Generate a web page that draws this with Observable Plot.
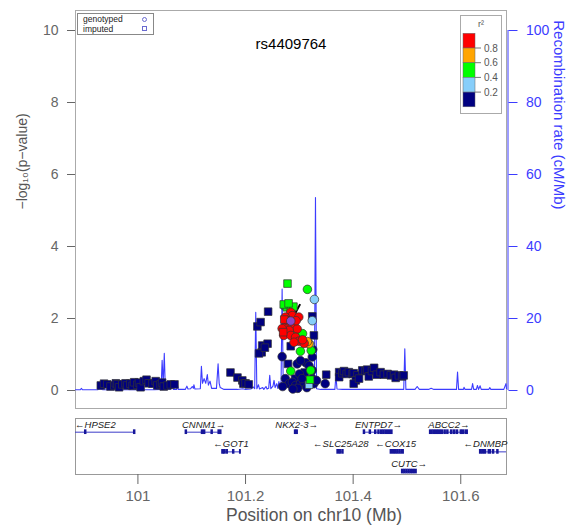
<!DOCTYPE html>
<html><head><meta charset="utf-8">
<script src="https://cdn.jsdelivr.net/npm/d3@7"></script>
<script src="https://cdn.jsdelivr.net/npm/@observablehq/plot@0.6"></script>
<style>
body{margin:0;background:#fff;font-family:"Liberation Sans",Arial,sans-serif}
#wrap{position:relative;width:574px;height:531px;overflow:hidden}
#wrap svg{display:block;max-width:none!important}
</style></head><body><div id="wrap"></div>
<script>
// ---------- data ----------
const title = "rs4409764";
const xDomain = [100.884, 101.685];
const xTicks = [101, 101.2, 101.4, 101.6];
const leftTicks = [0, 2, 4, 6, 8, 10];
const rightTicks = [0, 20, 40, 60, 80, 100];
const recScale = 10; // 100 cM/Mb on right axis == 10 on left axis
const r2Breaks = [0.2, 0.4, 0.6, 0.8];
const r2Colors = ["#000080", "#87cefa", "#00ff00", "#ffa500", "#ff0000"];
const r2Labels = ["0.8", "0.6", "0.4", "0.2"];

// [position (Mb), -log10 p, r², "g" genotyped / "i" imputed]
const leftSnps = [
  [100.931,0.14,0.1,"i"],[100.937,0.19,0.1,"i"],[100.943,0.17,0.1,"i"],[100.949,0.11,0.1,"i"],
  [100.956,0.14,0.1,"i"],[100.959,0.20,0.1,"i"],[100.962,0.17,0.1,"i"],[100.965,0.09,0.1,"i"],
  [100.971,0.17,0.1,"i"],[100.977,0.20,0.1,"i"],[100.980,0.14,0.1,"i"],[100.986,0.19,0.1,"i"],
  [100.990,0.13,0.1,"i"],[100.993,0.23,0.1,"i"],[100.999,0.16,0.1,"i"],[101.002,0.22,0.1,"i"],
  [101.005,0.09,0.1,"i"],[101.011,0.26,0.1,"i"],[101.016,0.30,0.1,"i"],[101.020,0.20,0.1,"i"],
  [101.027,0.19,0.1,"i"],[101.033,0.26,0.1,"i"],[101.036,0.14,0.1,"i"],[101.042,0.17,0.1,"i"],
  [101.045,0.22,0.1,"i"],[101.048,0.11,0.1,"i"],[101.055,0.14,0.1,"i"],[101.061,0.17,0.1,"i"],
  [101.068,0.17,0.1,"i"]
];
const midSnps = [
  [101.172,0.50,0.1,"i"],[101.185,0.36,0.1,"i"],[101.194,0.28,0.1,"i"],[101.196,0.19,0.1,"i"],
  [101.200,0.20,0.1,"i"],[101.206,0.17,0.1,"i"],
  [101.222,1.78,0.1,"i"],[101.228,1.90,0.1,"i"],[101.242,2.19,0.1,"i"],[101.231,1.25,0.1,"i"],
  [101.241,1.30,0.1,"i"],[101.230,1.06,0.1,"i"],[101.225,1.03,0.1,"i"],[101.236,1.19,0.1,"i"]
];
const coreSnps = [
  // low r²
  [101.279,0.74,0.1,"i"],[101.284,1.23,0.1,"i"],[101.292,0.33,0.1,"i"],[101.310,0.50,0.1,"i"],
  [101.327,1.53,0.1,"i"],[101.324,2.06,0.1,"i"],[101.350,0.44,0.1,"i"],
  [101.268,0.94,0.1,"g"],[101.296,0.74,0.1,"g"],[101.312,0.77,0.1,"g"],[101.318,0.69,0.1,"g"],
  [101.300,0.46,0.1,"g"],[101.302,0.83,0.1,"g"],[101.324,0.56,0.1,"g"],[101.324,0.93,0.1,"g"],
  [101.325,1.14,0.1,"g"],[101.274,0.33,0.1,"g"],[101.281,0.19,0.1,"g"],[101.287,0.23,0.1,"g"],
  [101.293,0.14,0.1,"g"],[101.302,0.19,0.1,"g"],[101.309,0.23,0.1,"g"],[101.327,0.19,0.1,"g"],
  [101.324,0.33,0.1,"g"],[101.297,0.06,0.1,"g"],[101.314,0.08,0.1,"g"],[101.288,0.04,0.1,"g"],
  [101.269,0.11,0.1,"g"],[101.305,0.33,0.1,"g"],[101.332,0.28,0.1,"g"],[101.348,0.19,0.1,"g"],
  // 0.2–0.4
  [101.328,2.53,0.3,"g"],[101.324,1.94,0.3,"g"],[101.320,1.28,0.3,"g"],[101.318,0.16,0.3,"i"],
  // 0.4–0.6
  [101.278,2.97,0.5,"i"],[101.274,2.36,0.5,"i"],[101.277,2.31,0.5,"i"],[101.284,2.28,0.5,"i"],
  [101.289,2.33,0.5,"i"],[101.271,2.39,0.5,"i"],[101.280,2.42,0.5,"i"],[101.296,1.58,0.5,"i"],
  [101.320,0.30,0.5,"i"],[101.315,2.81,0.5,"g"],[101.306,1.58,0.5,"g"],[101.302,1.09,0.5,"g"],
  [101.322,1.11,0.5,"g"],[101.284,0.54,0.5,"g"],[101.321,0.56,0.5,"g"],
  // 0.6–0.8
  [101.318,1.30,0.7,"g"],[101.315,1.36,0.7,"g"],
  // 0.8–1
  [101.284,2.17,0.9,"g"],[101.287,2.08,0.9,"g"],[101.274,2.04,0.9,"g"],[101.299,2.04,0.9,"g"],
  [101.290,1.85,0.9,"g"],[101.274,1.76,0.9,"g"],[101.296,1.71,0.9,"g"],[101.281,1.67,0.9,"g"],
  [101.271,1.53,0.9,"g"],[101.284,1.53,0.9,"g"],[101.293,1.48,0.9,"g"],[101.299,1.37,0.9,"g"],
  [101.309,1.31,0.9,"g"],[101.290,1.34,0.9,"g"],[101.306,1.41,0.9,"g"],[101.278,1.94,0.9,"g"],
  [101.294,1.94,0.9,"g"],[101.268,1.72,0.9,"g"],[101.270,1.62,0.9,"i"],[101.272,1.97,0.9,"i"]
];
const rightSnps = [
  [101.374,0.51,0.1,"i"],[101.374,0.37,0.1,"i"],[101.380,0.48,0.1,"i"],[101.383,0.54,0.1,"i"],
  [101.388,0.46,0.1,"i"],[101.392,0.51,0.1,"i"],[101.399,0.46,0.1,"i"],[101.401,0.48,0.1,"i"],
  [101.408,0.42,0.1,"i"],[101.405,0.28,0.1,"i"],[101.401,0.19,0.1,"i"],[101.411,0.33,0.1,"i"],
  [101.417,0.56,0.1,"i"],[101.423,0.54,0.1,"i"],[101.426,0.58,0.1,"i"],[101.429,0.39,0.1,"i"],
  [101.435,0.54,0.1,"i"],[101.439,0.63,0.1,"i"],[101.444,0.44,0.1,"i"],[101.451,0.51,0.1,"i"],
  [101.457,0.44,0.1,"i"],[101.464,0.46,0.1,"i"],[101.470,0.42,0.1,"i"],[101.476,0.44,0.1,"i"],
  [101.479,0.35,0.1,"i"],[101.485,0.42,0.1,"i"],[101.491,0.39,0.1,"i"],[101.494,0.42,0.1,"i"]
];
const leadSnp = {name: "rs4409764", pos: 101.284, logp: 1.93};

// recombination rate (cM/Mb)
const recombPos = [100.884,100.893,100.895,100.897,100.925,100.930,100.935,101.030,101.043,101.045,101.047,101.049,101.051,101.060,101.064,101.066,101.072,101.073,101.075,101.088,101.091,101.093,101.098,101.101,101.103,101.104,101.106,101.116,101.118,101.120,101.123,101.126,101.129,101.131,101.134,101.137,101.146,101.149,101.151,101.153,101.160,101.185,101.195,101.200,101.210,101.214,101.217,101.219,101.221,101.224,101.226,101.232,101.234,101.238,101.240,101.243,101.245,101.247,101.251,101.253,101.255,101.258,101.260,101.262,101.264,101.266,101.268,101.270,101.272,101.275,101.285,101.300,101.315,101.326,101.328,101.330,101.332,101.340,101.366,101.368,101.370,101.380,101.494,101.496,101.498,101.515,101.519,101.523,101.540,101.545,101.550,101.592,101.594,101.596,101.605,101.606,101.608,101.620,101.622,101.624,101.629,101.631,101.633,101.636,101.638,101.652,101.654,101.656,101.680,101.684,101.685];
const recombRate = [0.2,0.2,0.6,0.2,0.2,0.4,0.2,0.2,0.3,8.4,1.5,10.3,0.4,0.3,1.0,0.3,0.3,1.9,0.3,0.3,1.2,0.4,0.5,1.1,0.6,1.6,0.4,0.5,6.7,2.0,3.3,2.0,4.4,1.5,2.6,0.6,0.6,7.4,2.0,0.8,0.3,0.3,0.5,0.3,0.4,1.0,0.5,21.7,0.5,1.6,0.4,0.8,0.3,1.1,0.4,0.6,4.2,0.5,1.2,2.8,0.8,1.9,0.6,2.5,1.0,1.5,28.2,2.0,3.5,1.0,0.6,0.5,0.8,1.0,0.8,53.6,0.5,0.3,0.3,4.2,0.4,0.3,0.3,11.6,0.3,0.3,1.1,0.3,0.3,0.6,0.3,0.3,5.1,0.3,0.3,0.9,0.3,0.3,1.9,0.3,0.3,1.4,0.3,1.3,0.3,0.3,0.8,0.3,0.3,1.9,0.5];

// genes
const geneNames  = ["HPSE2","CNNM1","GOT1","NKX2-3","SLC25A28","ENTPD7","COX15","CUTC","ABCC2","DNMBP"];
const geneStart  = [100.840,101.089,101.157,101.292,101.371,101.420,101.470,101.491,101.543,101.636];
const geneEnd    = [100.995,101.155,101.191,101.297,101.382,101.473,101.494,101.518,101.613,101.720];
const geneStrand = [-1, 1, -1, 1, -1, 1, -1, 1, 1, -1];
const geneRow    = [1, 1, 2, 1, 2, 1, 2, 3, 1, 2];
const geneLabelAt = [100.921,101.122,101.173,101.295,101.377,101.447,101.479,101.504,101.578,101.646];
const geneExons = [
  [[100.902,100.904],[100.993,100.995]],
  [[101.089,101.091],[101.119,101.121],[101.123,101.125],[101.137,101.139],[101.150,101.155]],
  [[101.157,101.159],[101.160,101.163],[101.166,101.167],[101.177,101.179],[101.190,101.191]],
  [[101.292,101.294],[101.295,101.297]],
  [[101.371,101.374],[101.376,101.377],[101.380,101.382]],
  [[101.420,101.422],[101.431,101.433],[101.441,101.443],[101.447,101.449],[101.452,101.454],[101.456,101.458],[101.460,101.473]],
  [[101.470,101.476],[101.478,101.480],[101.482,101.484],[101.486,101.488],[101.490,101.494]],
  [[101.491,101.493],[101.495,101.497],[101.499,101.501],[101.503,101.505],[101.507,101.509],[101.511,101.513],[101.515,101.518]],
  [[101.543,101.547],[101.549,101.552],[101.554,101.556],[101.558,101.563],[101.565,101.567],[101.570,101.572],[101.575,101.577],[101.582,101.584],[101.587,101.590],[101.593,101.595],[101.600,101.602],[101.604,101.606],[101.609,101.613]],
  [[101.636,101.639],[101.641,101.643],[101.645,101.647],[101.652,101.656],[101.660,101.662],[101.668,101.670]]
];

// ---------- build ----------
const font = '"Liberation Sans", Arial, sans-serif';
const blue = "#3c3cff";
const axisGray = "#666";
const snps = d3.sort([...leftSnps, ...midSnps, ...coreSnps, ...rightSnps], d => d[2]);
const recomb = recombPos.map((p, i) => ({pos: p, rate: recombRate[i]}));
const genes = geneNames.map((n, i) => ({
  name: n, start: geneStart[i], end: geneEnd[i], strand: geneStrand[i], row: geneRow[i],
  labelAt: geneLabelAt[i], exons: geneExons[i]
}));
const exons = genes.flatMap(g => g.exons.map(([a, b]) => ({a, b, row: g.row})));

const main = Plot.plot({
  width: 574, height: 410,
  marginTop: 10, marginBottom: 2, marginLeft: 75, marginRight: 68,
  style: {fontFamily: font, background: "white"},
  x: {domain: xDomain, axis: null},
  y: {domain: [-0.5, 10.556]},
  color: {type: "threshold", domain: r2Breaks, range: r2Colors},
  symbol: {domain: ["g", "i"], range: ["circle", "square"]},
  marks: [
    Plot.frame({stroke: "#aaa"}),
    Plot.line(recomb, {x: "pos", y: d => d.rate / recScale, stroke: blue, strokeWidth: 1.1}),
    Plot.ruleX([xDomain[1]], {y1: 0, y2: rightTicks[rightTicks.length - 1] / recScale, stroke: blue, dx: 1.5}),
    Plot.axisY({anchor: "left", ticks: leftTicks, tickSize: 8, tickPadding: 9, color: axisGray, fontSize: 14, label: null}),
    Plot.axisY({anchor: "right", ticks: rightTicks.map(v => v / recScale), tickFormat: d => Math.round(d * recScale),
      tickSize: 9, tickPadding: 9, color: blue, fontSize: 14, label: null, dx: 1.5}),
    Plot.link([leadSnp], {x1: d => d.pos + 0.004, y1: d => d.logp + 0.09, x2: d => d.pos + 0.0175, y2: d => d.logp + 0.47,
      stroke: "black", strokeWidth: 2}),
    Plot.dot(snps, {x: d => d[0], y: d => d[1], fill: d => d[2], symbol: d => d[3], r: 4.3, stroke: "#333", strokeWidth: 0.7}),
    Plot.dot([leadSnp], {x: "pos", y: "logp", r: 4.3, fill: "#8e44c8", stroke: "#333", strokeWidth: 0.7}),
    Plot.text([title], {frameAnchor: "top", dy: 28, fontSize: 15, fill: "black"}),
    Plot.text(["−log₁₀(p−value)"], {frameAnchor: "left", dx: -53, rotate: -90, fontSize: 14, fill: "#555"}),
    Plot.text(["Recombination rate (cM/Mb)"], {frameAnchor: "right", dx: 52, rotate: 90, fontSize: 15, fill: blue})
  ]
});

// legends drawn inside the main svg
const svg = d3.select(main);
const lg = svg.append("g").attr("font-family", font).attr("text-anchor", "start");
lg.append("rect").attr("x", 77.5).attr("y", 13.5).attr("width", 76).attr("height", 21)
  .attr("fill", "white").attr("stroke", "#888");
lg.append("text").attr("x", 83).attr("y", 21.5).attr("font-size", 8.5).attr("fill", "#222").text("genotyped");
lg.append("text").attr("x", 83).attr("y", 31.5).attr("font-size", 8.5).attr("fill", "#222").text("imputed");
lg.append("circle").attr("cx", 144.5).attr("cy", 19.5).attr("r", 2).attr("fill", "none").attr("stroke", "#6a6ad0");
lg.append("rect").attr("x", 142.5).attr("y", 26.5).attr("width", 4).attr("height", 4).attr("fill", "none").attr("stroke", "#6a6ad0");

const rg = svg.append("g").attr("font-family", font).attr("text-anchor", "start");
rg.append("rect").attr("x", 460.5).attr("y", 15.5).attr("width", 41).attr("height", 98)
  .attr("fill", "white").attr("stroke", "#aaa");
rg.append("text").attr("x", 481).attr("y", 27).attr("font-size", 9).attr("fill", "#555")
  .attr("text-anchor", "middle").text("r²");
const band = 14.7, bandTop = 33.3;
[...r2Colors].reverse().forEach((c, i) => {
  rg.append("rect").attr("x", 463).attr("y", bandTop + i * band).attr("width", 12).attr("height", band)
    .attr("fill", c).attr("stroke", "#666").attr("stroke-width", 0.5);
});
r2Labels.forEach((t, i) => {
  const y = bandTop + (i + 1) * band;
  rg.append("line").attr("x1", 475).attr("x2", 481).attr("y1", y).attr("y2", y).attr("stroke", "#777");
  rg.append("text").attr("x", 484).attr("y", y).attr("dy", "0.35em").attr("font-size", 10)
    .attr("fill", "#555").text(t);
});

const genePlot = Plot.plot({
  width: 574, height: 121,
  marginTop: 8, marginBottom: 57, marginLeft: 75, marginRight: 68,
  style: {fontFamily: font, background: "white"},
  x: {domain: xDomain},
  y: {domain: [3.15, 0.305], axis: null},
  marks: [
    Plot.frame({stroke: "#999"}),
    Plot.ruleY(genes, {x1: "start", x2: "end", y: "row", stroke: "#3a3ac8", strokeWidth: 1, clip: true}),
    Plot.rect(exons, {x1: "a", x2: "b", y1: d => d.row - 0.12, y2: d => d.row + 0.12, fill: "#16169a",
      insetLeft: -0.7, insetRight: -0.7, clip: true}),
    Plot.text(genes, {x: "labelAt", y: "row", dy: -7.5, fontSize: 9.5, fontStyle: "italic", fill: "#222",
      text: d => d.strand < 0 ? "\u2190" + d.name : d.name + "\u2192"}),
    Plot.axisX({ticks: xTicks, tickSize: 10, tickPadding: 6, tickFormat: d => String(d), color: axisGray, fontSize: 15, label: null}),
    Plot.text(["Position on chr10 (Mb)"], {frameAnchor: "bottom", dy: 46, dx: 23, fontSize: 17.5, fill: "#555"})
  ]
});

const wrap = document.getElementById("wrap");
wrap.appendChild(main);
wrap.appendChild(genePlot);
</script></body></html>
